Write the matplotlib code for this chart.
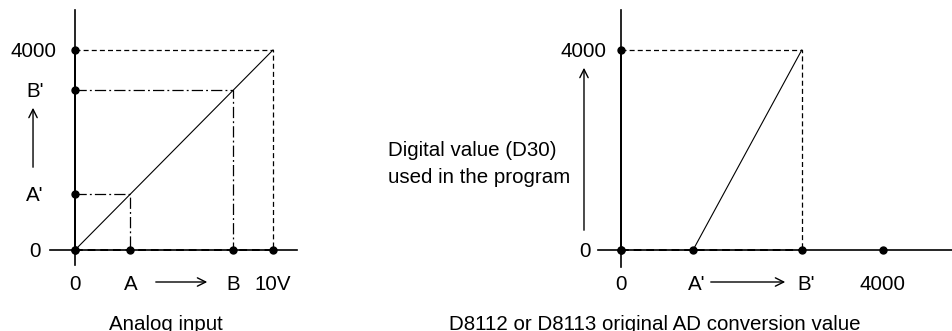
import matplotlib.pyplot as plt

plt.rcParams['font.family'] = ['Liberation Sans', 'DejaVu Sans']

# left diagram: analog input (V) -> digital value
volt_full = 10.0
digit_full = 4000
volt_a, volt_b = 2.8, 8.0
digit_a, digit_b = 1120, 3200
left_xticks = [0, volt_a, volt_b, volt_full]
left_xlabels = ['0', 'A', 'B', '10V']
left_yticks = [0, digit_a, digit_b, digit_full]
left_ylabels = ['0', "A'", "B'", '4000']

# right diagram: original AD value -> digital value (D30)
raw_a, raw_b, raw_full = 1100, 2760, 4000
right_xticks = [0, raw_a, raw_b, raw_full]
right_xlabels = ['0', "A'", "B'", '4000']
right_yticks = [0, digit_full]
right_ylabels = ['0', '4000']

FS = 14.8
fig = plt.figure(figsize=(9.53, 3.31), dpi=100)

# ---------------- left ----------------
ax = fig.add_axes([0, 0, 320 / 953, 1])
ax.set_xlim(-75 / 19.8, 245 / 19.8)
ax.set_ylim(-1620, 5000)
ax.axis('off')

ax.plot([0, 0], [-300, 4800], color='black', lw=1.2)
ax.plot([-1.26, 11.2], [0, 0], color='black', lw=1.2)
ax.plot([0, volt_full], [0, digit_full], color='black', lw=0.8)

ax.plot([0, volt_full, volt_full], [digit_full, digit_full, 0], color='black', lw=0.9, ls=(0, (4, 2.5)))
ax.plot([0, volt_b, volt_b], [digit_b, digit_b, 0], color='black', lw=0.9, ls=(0, (9, 2.5, 1.5, 2.5)))
ax.plot([0, volt_a, volt_a], [digit_a, digit_a, 0], color='black', lw=0.9, ls=(0, (9, 2.5, 1.5, 2.5)))
ax.plot([0, volt_full], [0, 0], color='black', lw=1.4, ls=(0, (4, 2.5)))
ax.plot([0, 0], [0, digit_full], color='black', lw=1.4)

ax.plot(left_xticks, [0] * 4, 'o', color='black', ms=5)
ax.plot([0] * 4, left_yticks, 'o', color='black', ms=5)

for v, lab in zip(left_xticks, left_xlabels):
    ax.text(v, -800, lab, ha='center', va='baseline', fontsize=FS)
for d, lab in zip(left_yticks, left_ylabels):
    if lab == '4000':
        ax.text(-0.91, d - 145, lab, ha='right', va='baseline', fontsize=FS)
    else:
        ax.text(-2.02, d - 145, lab, ha='center', va='baseline', fontsize=FS)

ax.annotate('', xy=(6.82, -640), xytext=(3.94, -640),
            arrowprops=dict(arrowstyle='->', color='black', lw=1.0, mutation_scale=15))
ax.annotate('', xy=(-2.12, 2900), xytext=(-2.12, 1600),
            arrowprops=dict(arrowstyle='->', color='black', lw=1.0, mutation_scale=15))
ax.text(4.6, -1600, 'Analog input', ha='center', va='baseline', fontsize=FS)

# ---------------- right ----------------
k = 262 / 4000
ax2 = fig.add_axes([380 / 953, 0, 573 / 953, 1])
ax2.set_xlim(-241 / k, 332 / k)
ax2.set_ylim(-1620, 5000)
ax2.axis('off')

ax2.plot([0, 0], [-340, 4800], color='black', lw=1.2)
ax2.plot([-351, 332 / k], [0, 0], color='black', lw=1.2)
ax2.plot([raw_a, raw_b], [0, digit_full], color='black', lw=0.8)
ax2.plot([0, raw_b, raw_b], [digit_full, digit_full, 0], color='black', lw=0.9, ls=(0, (4, 2.5)))
ax2.plot([0, raw_b], [0, 0], color='black', lw=1.4, ls=(0, (4, 2.5)))
ax2.plot([0, 0], [0, digit_full], color='black', lw=1.4)

ax2.plot(right_xticks, [0] * 4, 'o', color='black', ms=5)
ax2.plot([0] * 2, right_yticks, 'o', color='black', ms=5)

for v, lab in zip(right_xticks, right_xlabels):
    off = 60 if "'" in lab else 0
    ax2.text(v + off, -800, lab, ha='center', va='baseline', fontsize=FS)
ax2.text(-214, digit_full - 145, '4000', ha='right', va='baseline', fontsize=FS)
ax2.text(-550, -145, '0', ha='center', va='baseline', fontsize=FS)

ax2.annotate('', xy=(2550, -640), xytext=(1328, -640),
             arrowprops=dict(arrowstyle='->', color='black', lw=1.0, mutation_scale=15))
ax2.annotate('', xy=(-565, 3700), xytext=(-565, 340),
             arrowprops=dict(arrowstyle='->', color='black', lw=1.0, mutation_scale=15))
ax2.text(-3557, 1880, 'Digital value (D30)', ha='left', va='baseline', fontsize=FS)
ax2.text(-3557, 1340, 'used in the program', ha='left', va='baseline', fontsize=FS)
ax2.text(519, -1600, 'D8112 or D8113 original AD conversion value', ha='center', va='baseline', fontsize=FS)

fig.savefig('out.png', dpi=100)
